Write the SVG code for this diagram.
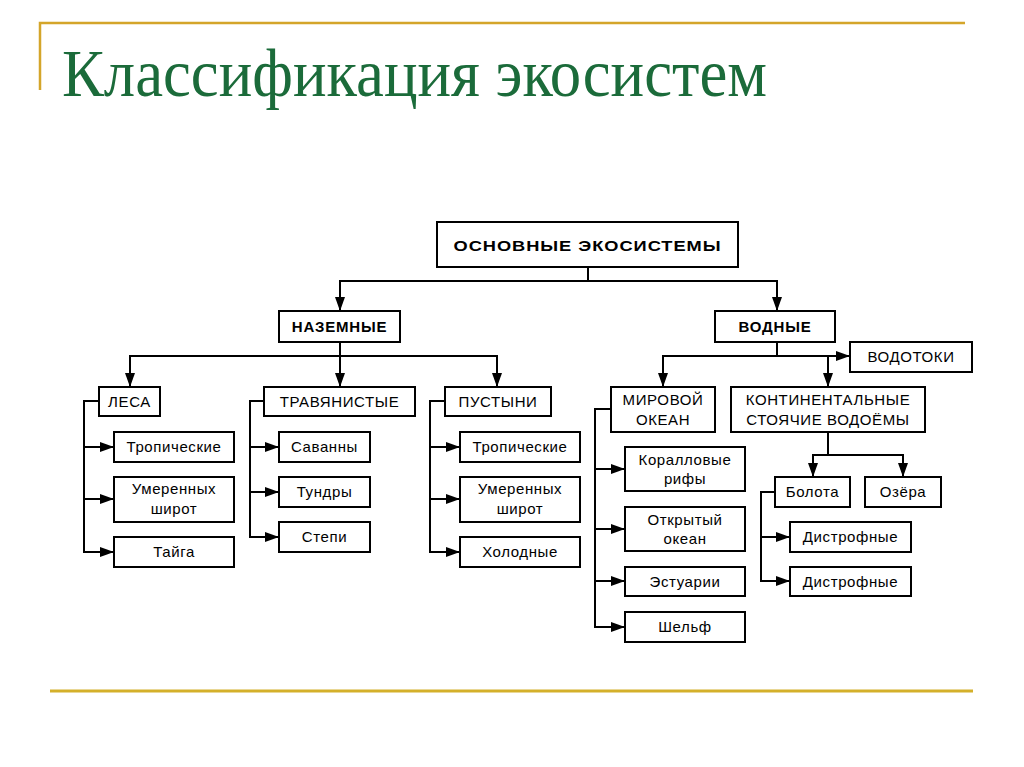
<svg xmlns="http://www.w3.org/2000/svg" width="1024" height="767" viewBox="0 0 1024 767">
<defs>
<marker id="arr" markerUnits="userSpaceOnUse" markerWidth="14" markerHeight="10" refX="14" refY="5" orient="auto"><path d="M0,0 L14,5 L0,10 z" fill="#000"/></marker>
<style>
.b{fill:#fff;stroke:#000;stroke-width:2}
.t{font-family:"Liberation Sans",Arial,sans-serif;font-size:15px;fill:#000;text-anchor:middle;letter-spacing:0.6px}
.tb{font-family:"Liberation Sans",Arial,sans-serif;font-size:15px;font-weight:bold;fill:#000;text-anchor:middle;letter-spacing:0.8px}
.c{fill:none;stroke:#000;stroke-width:2}
.a{fill:none;stroke:#000;stroke-width:2;marker-end:url(#arr)}
</style>
</defs>
<rect width="1024" height="767" fill="#fff"/>
<g id="frame">
<path d="M40,90 V23 H965" fill="none" stroke="#D4A52A" stroke-width="2.5"/>
<path d="M50,691 H973" fill="none" stroke="#D4B02A" stroke-width="3"/>
<text x="62" y="96" font-family="Liberation Serif,'Times New Roman',serif" font-size="67" fill="#1B6B3A" textLength="705" lengthAdjust="spacingAndGlyphs">Классификация экосистем</text>
</g>
<g id="connectors">
<path class="c" d="M588,267 V281"/>
<path class="a" d="M588,281 H340 V311"/>
<path class="a" d="M588,281 H777 V311"/>
<path class="a" d="M340,342 V387"/>
<path class="a" d="M340,356 H130 V387"/>
<path class="a" d="M340,356 H497 V387"/>
<path class="c" d="M777,342 V356"/>
<path class="a" d="M777,356 H850"/>
<path class="a" d="M777,356 H663 V387"/>
<path class="a" d="M828,356 V387"/>
<path class="a" d="M99,401 H84 V552 H114"/>
<path class="a" d="M84,447 H114"/>
<path class="a" d="M84,499 H114"/>
<path class="a" d="M264,401 H250 V537 H279"/>
<path class="a" d="M250,447 H279"/>
<path class="a" d="M250,492 H279"/>
<path class="a" d="M445,401 H430 V552 H460"/>
<path class="a" d="M430,447 H460"/>
<path class="a" d="M430,499 H460"/>
<path class="a" d="M611,409 H595 V627 H625"/>
<path class="a" d="M595,469 H625"/>
<path class="a" d="M595,529 H625"/>
<path class="a" d="M595,581 H625"/>
<path class="c" d="M828,432 V455"/>
<path class="a" d="M828,455 H813 V477"/>
<path class="a" d="M828,455 H903 V477"/>
<path class="a" d="M775,492 H761 V581 H790"/>
<path class="a" d="M761,537 H790"/>
</g>
<g id="root"><rect class="b" x="437" y="222" width="301" height="45"/><text class="tb" x="587.5" y="250.5" font-size="17" letter-spacing="0" textLength="268" lengthAdjust="spacingAndGlyphs">ОСНОВНЫЕ ЭКОСИСТЕМЫ</text></g>
<g id="nazemnye"><rect class="b" x="279" y="311" width="121" height="31"/><text class="tb" x="339.5" y="332">НАЗЕМНЫЕ</text></g>
<g id="vodnye"><rect class="b" x="715" y="311" width="120" height="31"/><text class="tb" x="775" y="332">ВОДНЫЕ</text></g>
<g id="vodotoki"><rect class="b" x="850" y="342" width="122" height="30"/><text class="t" x="911" y="362">ВОДОТОКИ</text></g>
<g id="lesa"><rect class="b" x="99" y="387" width="61" height="29"/><text class="t" x="129.5" y="407">ЛЕСА</text></g>
<g id="trav"><rect class="b" x="264" y="387" width="151" height="29"/><text class="t" x="339.5" y="407">ТРАВЯНИСТЫЕ</text></g>
<g id="pust"><rect class="b" x="445" y="387" width="106" height="29"/><text class="t" x="498" y="407">ПУСТЫНИ</text></g>
<g id="lesa-trop"><rect class="b" x="114" y="432" width="120" height="30"/><text class="t" x="174" y="452">Тропические</text></g>
<g id="lesa-umer"><rect class="b" x="114" y="477" width="120" height="45"/><text class="t" x="174" y="494">Умеренных</text><text class="t" x="174" y="514">широт</text></g>
<g id="taiga"><rect class="b" x="114" y="537" width="120" height="30"/><text class="t" x="174" y="557">Тайга</text></g>
<g id="savanny"><rect class="b" x="279" y="432" width="91" height="30"/><text class="t" x="324.5" y="452">Саванны</text></g>
<g id="tundry"><rect class="b" x="279" y="477" width="91" height="30"/><text class="t" x="324.5" y="497">Тундры</text></g>
<g id="stepi"><rect class="b" x="279" y="522" width="91" height="30"/><text class="t" x="324.5" y="542">Степи</text></g>
<g id="pust-trop"><rect class="b" x="460" y="432" width="120" height="30"/><text class="t" x="520" y="452">Тропические</text></g>
<g id="pust-umer"><rect class="b" x="460" y="477" width="120" height="45"/><text class="t" x="520" y="494">Умеренных</text><text class="t" x="520" y="514">широт</text></g>
<g id="holodnye"><rect class="b" x="460" y="537" width="120" height="30"/><text class="t" x="520" y="557">Холодные</text></g>
<g id="mirovoy"><rect class="b" x="611" y="387" width="104" height="45"/><text class="t" x="663" y="405">МИРОВОЙ</text><text class="t" x="663" y="425">ОКЕАН</text></g>
<g id="kontin"><rect class="b" x="731" y="387" width="194" height="45"/><text class="t" x="828" y="405">КОНТИНЕНТАЛЬНЫЕ</text><text class="t" x="828" y="425">СТОЯЧИЕ ВОДОЁМЫ</text></g>
<g id="korall"><rect class="b" x="625" y="447" width="120" height="44"/><text class="t" x="685" y="465">Коралловые</text><text class="t" x="685" y="484">рифы</text></g>
<g id="otkr"><rect class="b" x="625" y="507" width="120" height="44"/><text class="t" x="685" y="525">Открытый</text><text class="t" x="685" y="544">океан</text></g>
<g id="estuarii"><rect class="b" x="625" y="567" width="120" height="29"/><text class="t" x="685" y="587">Эстуарии</text></g>
<g id="shelf"><rect class="b" x="625" y="612" width="120" height="30"/><text class="t" x="685" y="632">Шельф</text></g>
<g id="bolota"><rect class="b" x="775" y="477" width="75" height="30"/><text class="t" x="812.5" y="497">Болота</text></g>
<g id="ozera"><rect class="b" x="865" y="477" width="76" height="30"/><text class="t" x="903" y="497">Озёра</text></g>
<g id="distr1"><rect class="b" x="790" y="522" width="121" height="30"/><text class="t" x="850.5" y="542">Дистрофные</text></g>
<g id="distr2"><rect class="b" x="790" y="567" width="121" height="29"/><text class="t" x="850.5" y="587">Дистрофные</text></g>
</svg>
